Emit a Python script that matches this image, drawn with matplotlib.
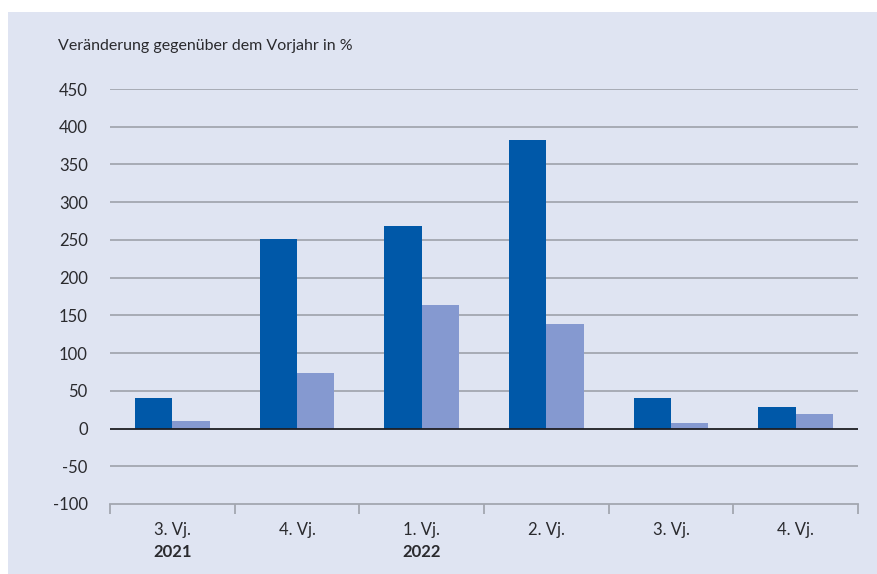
import numpy as np
import matplotlib
matplotlib.use('Agg')
import matplotlib.pyplot as plt
from matplotlib.transforms import blended_transform_factory

plt.rcParams['font.family'] = ['Lato', 'DejaVu Sans']

# Quarterly change vs. previous year, in %
quarters = ['3. Vj.', '4. Vj.', '1. Vj.', '2. Vj.', '3. Vj.', '4. Vj.']
years = {0: '2021', 2: '2022'}
series_dark = [41, 251, 269, 382, 40, 28]
series_light = [10, 73, 164, 139, 8, 19]
yticks = list(range(-100, 451, 50))

bg = '#dfe4f2'
dark_blue = '#0058a8'
light_blue = '#8599d0'
grid_col = '#a3a6b0'
text_col = '#2a2a2e'

fig = plt.figure(figsize=(8.77, 5.74), dpi=100)
fig.patch.set_facecolor('white')
# lavender panel behind the chart
fig.patches.append(plt.Rectangle((8 / 877, 0), 1, 1 - 12 / 574,
                                 transform=fig.transFigure, facecolor=bg,
                                 edgecolor='none', zorder=-10))

ax = fig.add_axes([110 / 877, 1 - 504 / 574, 748 / 877, (504 - 89) / 574])
ax.patch.set_alpha(0)

x = np.arange(len(quarters))
w = 0.3
ax.bar(x - w / 2, series_dark, width=w, color=dark_blue, zorder=3)
ax.bar(x + w / 2, series_light, width=w, color=light_blue, zorder=3)

ax.set_xlim(-0.5, len(quarters) - 0.5)
ax.set_ylim(-100, 450)

for v in yticks:
    if v == 0:
        ax.axhline(v, color='#1e1e22', lw=1.3, zorder=4)
    elif v != -100:
        ax.axhline(v, color=grid_col, lw=1.3, zorder=1)

for s in ['top', 'right', 'left']:
    ax.spines[s].set_visible(False)
ax.spines['bottom'].set_color(grid_col)
ax.spines['bottom'].set_linewidth(1.3)

ax.set_yticks(yticks)
ax.set_yticklabels([str(v) for v in yticks], fontsize=12, color=text_col)
ax.tick_params(axis='y', length=0, pad=16)

ax.set_xticks(x)
ax.set_xticklabels(quarters, fontsize=12, color=text_col)
ax.tick_params(axis='x', which='major', length=0, pad=13)
ax.set_xticks(np.arange(len(quarters) + 1) - 0.5, minor=True)
ax.tick_params(axis='x', which='minor', length=7.5, width=1.3, color=grid_col)

trans = blended_transform_factory(ax.transData, fig.transFigure)
for i, yr in years.items():
    ax.text(i, 1 - 552 / 574, yr, transform=trans, ha='center', va='center',
            fontsize=12, fontweight='bold', color=text_col)

fig.text(58 / 877, 1 - 46 / 574, 'Veränderung gegenüber dem Vorjahr in %',
         ha='left', va='center', fontsize=11.5, color=text_col)

fig.savefig('out.png', dpi=100)
